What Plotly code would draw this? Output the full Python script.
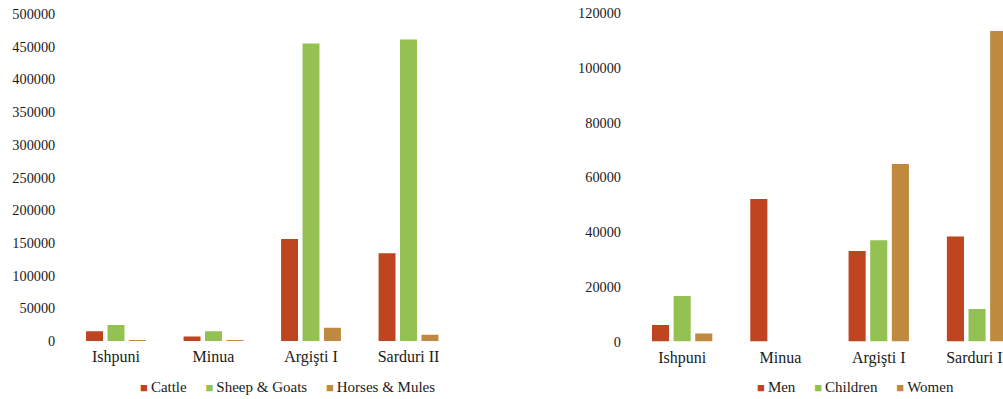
import plotly.graph_objects as go

# Urartian kings and the booty recorded in their campaigns
kings = ["Ishpuni", "Minua", "Argişti I", "Sarduri II"]

# Livestock (left panel)
livestock_names = ["Cattle", "Sheep & Goats", "Horses & Mules"]
cattle = [15000, 7000, 156000, 134000]
sheep_goats = [24500, 15000, 455000, 461000]
horses_mules = [1500, 800, 20300, 9700]

# Captives (right panel)
captive_names = ["Men", "Children", "Women"]
men = [6000, 52100, 33100, 38400]
children = [16600, None, 37000, 11900]
women = [2900, None, 64900, 113500]

livestock_ticks = list(range(0, 500001, 50000))
captive_ticks = list(range(0, 120001, 20000))

colors = ["#BF4420", "#93C152", "#BF8A3F"]
FONT = "Liberation Serif"

fig = go.Figure()

for name, vals, col in zip(livestock_names, [cattle, sheep_goats, horses_mules], colors):
    fig.add_trace(go.Bar(x=kings, y=vals, name=name, marker_color=col,
                         marker_line_width=0, xaxis="x", yaxis="y", showlegend=False))

for name, vals, col in zip(captive_names, [men, children, women], colors):
    fig.add_trace(go.Bar(x=kings, y=vals, name=name, marker_color=col,
                         marker_line_width=0, xaxis="x2", yaxis="y2", showlegend=False))

W, H = 1003, 399

axis_common = dict(showgrid=False, zeroline=False, showline=False, ticks="",
                   fixedrange=True)


def legend_text(names):
    # compact key: small coloured square followed by the series name
    items = [f'<span style="color:{c};font-size:13px">■</span>\u2009<span style="font-family:{FONT}">{n}</span>'
             for n, c in zip(names, colors)]
    return ("\u00a0" * 5).join(items)


fig.update_layout(
    width=W, height=H,
    margin=dict(l=0, r=0, t=0, b=0, autoexpand=False),
    paper_bgcolor="white", plot_bgcolor="white",
    font=dict(family=FONT, color="#1a1a1a"),
    barmode="group", bargap=0.34, bargroupgap=0.21,
    showlegend=False,
    xaxis=dict(domain=[67.25 / W, 457.25 / W], type="category",
               range=[-0.5, 3.5], tickfont=dict(size=16),
               ticklabelstandoff=4, anchor="y", **axis_common),
    yaxis=dict(domain=[(H - 341) / H, (H - 14) / H], range=[0, 500000],
               tickvals=livestock_ticks, tickformat="d", tickfont=dict(size=14.3),
               ticklabelstandoff=11, anchor="x", **axis_common),
    xaxis2=dict(domain=[633 / W, 1.0], type="category",
                range=[-0.5, -0.5 + (W - 633) / 98.3], tickfont=dict(size=16),
                ticklabelstandoff=4, anchor="y2", **axis_common),
    yaxis2=dict(domain=[(H - 341.5) / H, (H - 13.3) / H], range=[0, 120000],
                tickvals=captive_ticks, tickformat="d", tickfont=dict(size=14.3),
                ticklabelstandoff=11, anchor="x2", **axis_common),
    annotations=[
        dict(text=legend_text(livestock_names), x=287.5 / W, y=(H - 386.5) / H,
             xref="paper", yref="paper", xanchor="center", yanchor="middle",
             showarrow=False, font=dict(size=15, family=FONT)),
        dict(text=legend_text(captive_names), x=855 / W, y=(H - 386.5) / H,
             xref="paper", yref="paper", xanchor="center", yanchor="middle",
             showarrow=False, font=dict(size=15, family=FONT)),
    ],
)

fig.write_html("out.html")
